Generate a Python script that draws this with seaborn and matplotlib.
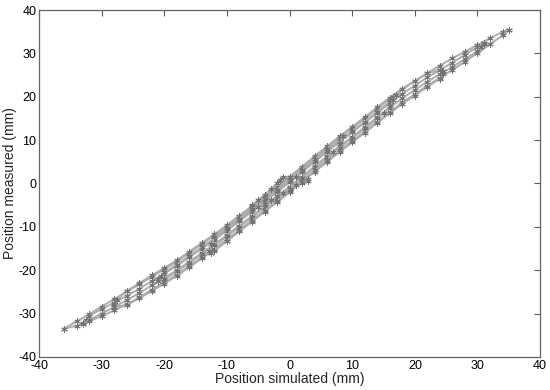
#!/usr/bin/env python3
# Measured vs simulated position (hysteresis loops), MATLAB-style star plot

import pandas as pd
import seaborn as sns
import matplotlib
matplotlib.use("Agg")
import matplotlib.pyplot as plt

# ---- data: one list pair per branch of each loop ----
# loop A (outer, 35 -> -36)
a_down_x = [35, 34, 32, 30, 28, 26, 24, 22, 20, 18, 16, 14, 12, 10, 8, 6, 4, 2, 0, -2,
            -4, -6, -8, -10, -12, -14, -16, -18, -20, -22, -24, -26, -28, -30, -32, -34, -36]
a_down_y = [35.5, 35.0, 33.5, 32.0, 30.4, 28.9, 27.2, 25.5, 23.6, 21.7, 19.5, 17.3, 15.0, 12.8,
            10.6, 8.3, 6.0, 3.6, 1.3, -1.0, -3.2, -5.5, -7.7, -9.9, -12.0, -14.0, -16.0, -18.0,
            -19.8, -21.5, -23.3, -24.9, -26.7, -28.4, -30.2, -31.8, -33.5]
a_up_x = [-36, -34, -32, -30, -28, -26, -24, -22, -20, -18, -16, -14, -12, -10, -8, -6, -4, -2,
          0, 2, 4, 6, 8, 10, 12, 14, 16, 18, 20, 22, 24, 26, 28, 30, 32, 34, 35]
a_up_y = [-33.5, -32.8, -31.8, -30.6, -29.3, -27.9, -26.3, -24.5, -22.8, -21.0, -19.0, -17.0,
          -15.0, -12.9, -10.7, -8.5, -6.2, -4.0, -1.7, 0.6, 3.0, 5.3, 7.6, 9.8, 12.0, 14.3, 16.5,
          18.7, 20.6, 22.6, 24.4, 26.2, 28.1, 30.1, 32.1, 34.2, 35.5]

# loop B (31 -> -33)
b_down_x = [31, 31, 30, 28, 26, 24, 22, 20, 18, 16, 14, 12, 10, 8, 6, 4, 2, 0, -2, -4, -6, -8,
            -10, -12, -14, -16, -18, -20, -22, -24, -26, -28, -30, -32, -32.5, -33, -33]
b_down_y = [32.5, 32.2, 31.5, 29.7, 27.9, 26.2, 24.5, 22.6, 20.7, 18.5, 16.3, 14.0, 11.8, 9.6,
            7.3, 5.0, 2.6, 0.3, -2.0, -4.2, -6.5, -8.7, -10.9, -13.0, -15.0, -17.0, -19.0, -20.8,
            -22.5, -24.3, -25.9, -27.5, -29.0, -30.5, -31.5, -32.3, -32.5]
b_up_x = [-33, -32, -30, -28, -26, -24, -22, -20, -18, -16, -14, -12, -10, -8, -6, -4, -2, 0,
          2, 4, 6, 8, 10, 12, 14, 16, 18, 20, 22, 24, 26, 28, 30, 30.5, 31]
b_up_y = [-32.5, -31.5, -30.0, -28.5, -26.9, -25.3, -23.5, -21.8, -20.0, -18.0, -16.0, -14.0,
          -11.9, -9.7, -7.5, -5.2, -3.0, -0.7, 1.6, 4.0, 6.3, 8.6, 10.8, 13.0, 15.3, 17.5, 19.7,
          21.6, 23.5, 25.2, 26.9, 28.7, 30.5, 31.6, 32.5]

# loop C (24.5 -> -28)
c_down_x = [24.5, 24, 22, 20, 18, 16, 14, 12, 10, 8, 6, 4, 2, 0, -2, -4, -6, -8, -10, -12, -14,
            -16, -18, -20, -22, -24, -26, -27.5, -28, -28]
c_down_y = [26.0, 26.3, 25.4, 23.7, 21.9, 19.8, 17.6, 15.3, 13.1, 10.9, 8.6, 6.3, 3.9, 1.6,
            -0.7, -2.9, -5.2, -7.4, -9.6, -11.7, -13.7, -15.7, -17.7, -19.5, -21.2, -23.0, -24.8,
            -26.8, -27.9, -28.5]
c_up_x = [-28, -26, -24, -22, -20, -18, -16, -14, -12, -10, -8, -6, -4, -2, 0, 2, 4, 6, 8, 10,
          12, 14, 16, 18, 20, 22, 24, 24.5, 24.5]
c_up_y = [-28.5, -28.0, -26.5, -24.8, -23.1, -21.3, -19.3, -17.3, -15.3, -13.2, -11.0, -8.8,
          -6.5, -4.3, -2.0, 0.3, 2.7, 5.0, 7.3, 9.5, 11.7, 14.0, 16.2, 18.4, 20.3, 22.3, 24.2,
          25.3, 26.0]

# loop D (17 -> -21)
d_down_x = [17, 16.5, 16, 14, 12, 10, 8, 6, 4, 2, 0, -2, -4, -6, -8, -10, -12, -14, -16, -18,
            -20, -20.5, -21, -21]
d_down_y = [20.5, 20.0, 18.8, 16.6, 14.3, 12.1, 9.9, 7.6, 5.3, 2.9, 0.6, -1.7, -3.9, -6.2,
            -8.4, -10.6, -12.7, -14.7, -16.7, -18.7, -20.5, -21.4, -22.0, -22.5]
d_up_x = [-21, -20, -18, -16, -14, -12, -10, -8, -6, -4, -2, 0, 2, 4, 6, 8, 10, 12, 14, 15,
          16, 16.5, 17]
d_up_y = [-22.5, -22.1, -20.3, -18.3, -16.3, -14.3, -12.2, -10.0, -7.8, -5.5, -3.3, -1.0, 1.3,
          3.7, 6.0, 8.3, 10.5, 12.7, 15.0, 16.3, 17.8, 19.3, 20.5]

# loop E (8.5 -> -12.5)
e_down_x = [8.5, 8, 6, 4, 2, 0, -2, -4, -6, -8, -10, -12, -12.5, -12.8, -12.5]
e_down_y = [11.0, 10.5, 8.0, 5.6, 3.2, 0.9, -1.4, -3.6, -5.9, -8.1, -10.3, -12.4, -14.0, -15.5,
            -16.0]
e_up_x = [-12.5, -12, -10, -8, -6, -4, -2, 0, 2, 4, 6, 7, 8, 8.5]
e_up_y = [-16.0, -15.6, -13.3, -11.0, -8.7, -6.3, -4.0, -1.6, 0.7, 3.0, 5.4, 7.2, 9.0, 11.0]

# loop F (small centre loop)
f_x = [-5, -4, -3, -2, -1, 0, 1, 2, 3, 3, 2, 1, 0, -1, -1.5, -2, -3, -4, -5, -6]
f_y = [-5.5, -4.8, -3.9, -3.0, -2.1, -1.2, -0.4, 0.2, 0.6, 1.0, 1.3, 1.4, 1.5, 1.5, 0.8, 0.0,
       -1.3, -2.6, -3.8, -5.0]

x_ticks = [-40, -30, -20, -10, 0, 10, 20, 30, 40]
y_ticks = [-40, -30, -20, -10, 0, 10, 20, 30, 40]


def main():
    branches = [("A1", a_down_x, a_down_y), ("A2", a_up_x, a_up_y),
                ("B1", b_down_x, b_down_y), ("B2", b_up_x, b_up_y),
                ("C1", c_down_x, c_down_y), ("C2", c_up_x, c_up_y),
                ("D1", d_down_x, d_down_y), ("D2", d_up_x, d_up_y),
                ("E1", e_down_x, e_down_y), ("E2", e_up_x, e_up_y),
                ("F", f_x, f_y)]
    rows = []
    for name, xs, ys in branches:
        for i, (xv, yv) in enumerate(zip(xs, ys)):
            rows.append({"branch": name, "order": i, "sim": xv, "meas": yv})
    df = pd.DataFrame.from_records(rows)

    sns.set_style("white")
    plt.rcParams["font.family"] = ["Liberation Sans", "DejaVu Sans"]
    plt.rcParams["axes.unicode_minus"] = False

    fig = plt.figure(figsize=(5.5, 3.9), dpi=100)
    ax = fig.add_axes([0.071, 0.085, 0.911, 0.889])

    # MATLAB-like asterisk markers, light line so the tracks merge into a fuzzy band
    sns.lineplot(data=df, x="sim", y="meas", units="branch", estimator=None, sort=False,
                 ax=ax, color="0.68", lw=1.4, marker=(6, 2, 0), markersize=4.5,
                 markeredgecolor="0.45", markeredgewidth=0.6)

    ax.set_xlim(-40, 40)
    ax.set_ylim(-40, 40)
    ax.set_xticks(x_ticks)
    ax.set_yticks(y_ticks)
    ax.tick_params(direction="in", length=4, width=0.8, color="0.35", labelsize=9,
                   labelcolor="black", top=True, right=True, pad=2)
    for s in ax.spines.values():
        s.set_color("0.4")
        s.set_linewidth(0.9)
    ax.set_xlabel("Position simulated (mm)", fontsize=10, labelpad=0)
    ax.set_ylabel("Position measured (mm)", fontsize=10, labelpad=1)

    fig.savefig("out.png", dpi=100)


if __name__ == "__main__":
    main()
